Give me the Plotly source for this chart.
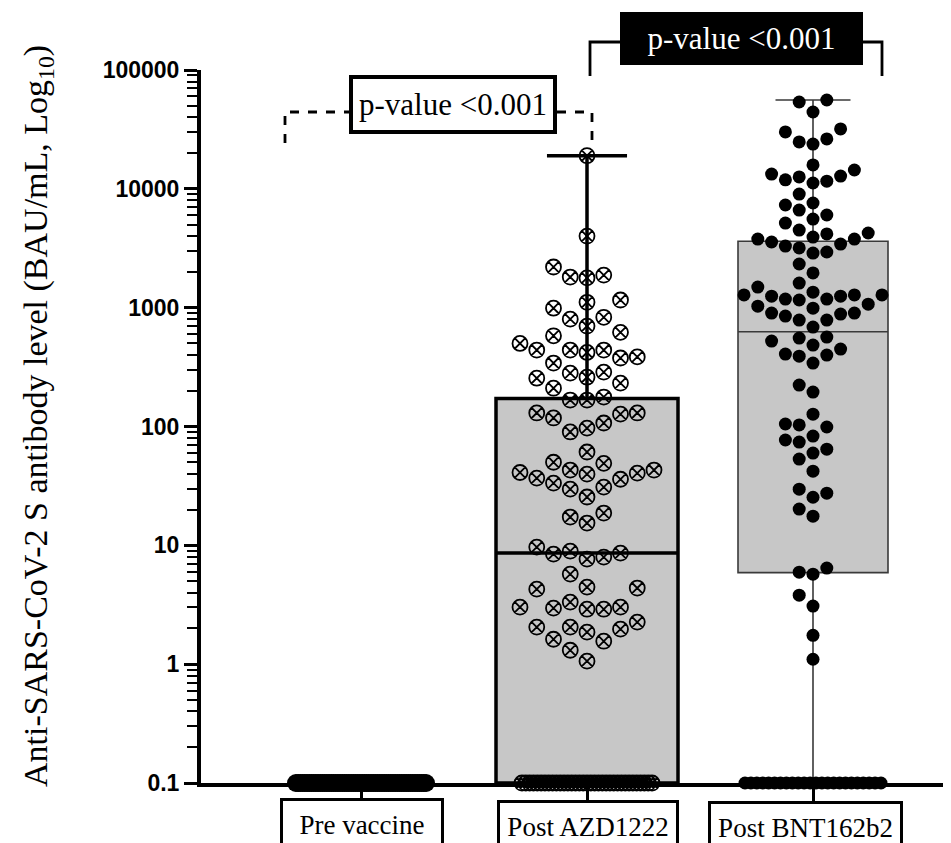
import numpy as np
import plotly.graph_objects as go

# ---------------- data ----------------
categories = ["Pre vaccine", "Post AZD1222", "Post BNT162b2"]
floor_value = 0.1  # lower limit of the assay / axis

pre_floor_count = 60
pre_values = [floor_value] * pre_floor_count

azd_detected = [19000, 4000, 2200, 1880, 1810, 1780, 1160, 1110, 990, 830, 800, 700,
                620, 580, 500, 440, 440, 440, 420, 385, 377, 342, 287, 281, 260, 255,
                232, 210, 177, 167, 167, 130, 130, 127, 118, 107, 97, 90, 61, 50, 49,
                43, 43, 41, 40.5, 39.7, 36.8, 36, 33.4, 30.9, 29.7, 25.5, 18.7, 17.3, 15.4,
                9.66, 8.94, 8.6, 8.43, 7.96, 7.66, 5.73, 4.45, 4.37, 4.28, 3.33, 3.02, 3.02,
                2.96, 2.90, 2.90, 2.26, 2.05, 2.05, 1.97, 1.86, 1.62, 1.56, 1.31, 1.06]
azd_floor_count = 35
azd_values = azd_detected + [floor_value] * azd_floor_count

bnt_detected = [55900, 53800, 44300, 31900, 30100, 26300, 24800, 23800,
                15900, 14400, 13300, 12800, 12600, 11900, 11600, 11200, 9040,
                7600, 7310, 6630, 6020, 5570, 5150,
                4500, 4250, 4170, 3930, 3780, 3780, 3570, 3430, 3300, 3180, 2940, 2880,
                2330, 1960, 1610, 1490, 1350, 1280, 1280, 1280, 1250, 1250, 1180, 1180, 1160,
                1070, 1030, 990, 900, 900, 884, 850, 786, 786,
                687, 566, 555, 523, 484, 448, 407, 399, 391, 342,
                223, 195, 127, 105, 103, 99, 83, 77, 74, 64.5, 59.7, 53.2, 42.1,
                29.7, 27.5, 25.4, 20.2, 17.6, 6.43, 5.95, 5.72, 3.81, 3.08, 1.75, 1.10]
bnt_floor_count = 24
bnt_values = bnt_detected + [floor_value] * bnt_floor_count

y_tick_values = [0.1, 1, 10, 100, 1000, 10000, 100000]
y_tick_labels = ["0.1", "1", "10", "100", "1000", "10000", "100000"]
p_value_labels = ["p-value <0.001", "p-value <0.001"]
y_title = "Anti-SARS-CoV-2 S antibody level (BAU/mL, Log<sub>10</sub>)"

# ---------------- layout geometry ----------------
PAGE_OFFSET = 8            # default body margin of the html page
W, H = 951 - PAGE_OFFSET, 843 - PAGE_OFFSET
ML, MR, MT, MB = 193, 0, 62, 60
PLOT_W = W - ML - MR
PLOT_H = H - MT - MB
PX_PER_CAT = 226.0
FIRST_CAT_SCREEN = 361.0
_left_screen = ML + PAGE_OFFSET
_right_screen = W + PAGE_OFFSET - MR
x_range = [-(FIRST_CAT_SCREEN - _left_screen) / PX_PER_CAT,
           (_right_screen - FIRST_CAT_SCREEN) / PX_PER_CAT]
y_range_log = [-1, 5]
PX_PER_DEC = PLOT_H / (y_range_log[1] - y_range_log[0])


def px_x(sx):
    """screen x pixel -> paper fraction"""
    return (sx - PAGE_OFFSET - ML) / PLOT_W


def px_y(sy):
    """screen y pixel -> paper fraction"""
    return (H - MB - (sy - PAGE_OFFSET)) / PLOT_H


def swarm_offsets(values, col_spacing, n_side, v_excl, floor_half):
    """Column-grid beeswarm (lowest value in the centre of each cluster)."""
    vals = np.asarray(values, float)
    ys = np.log10(vals) * PX_PER_DEC
    off = np.zeros(len(vals))
    floor_mask = np.isclose(vals, vals.min())
    n_floor = int(floor_mask.sum())
    spread_floor = n_floor > 3
    if spread_floor:
        off[floor_mask] = np.linspace(-floor_half, floor_half, n_floor)
    cols = [0]
    for k in range(1, n_side + 1):
        cols += [-k, k]
    placed = {c: [] for c in cols}
    for i in np.argsort(vals, kind="stable"):
        if spread_floor and floor_mask[i]:
            continue
        chosen, fb, fb_d = None, 0, -1.0
        for c in cols:
            d = min((abs(ys[i] - yy) for yy in placed[c]), default=np.inf)
            if d >= v_excl:
                chosen = c
                break
            if d > fb_d:
                fb_d, fb = d, c
        if chosen is None:
            chosen = fb
        placed[chosen].append(ys[i])
        off[i] = chosen * col_spacing
    return off / PX_PER_CAT


def box_stats(values):
    v = np.asarray(values, float)
    q1, med, q3 = np.percentile(v, [25, 50, 75])
    return dict(q1=[q1], median=[med], q3=[q3], lowerfence=[v.min()], upperfence=[v.max()])


fig = go.Figure()

BOX_GRAY = "#c7c7c7"
fig.add_trace(go.Box(x=[1], **box_stats(azd_values), width=182 / PX_PER_CAT, whiskerwidth=0.44,
                     fillcolor=BOX_GRAY, line=dict(color="black", width=3.5),
                     boxpoints=False, hoverinfo="skip", showlegend=False))
fig.add_trace(go.Box(x=[2], **box_stats(bnt_values), width=150 / PX_PER_CAT, whiskerwidth=0.5,
                     fillcolor=BOX_GRAY, line=dict(color="#3a3a3a", width=1.6),
                     boxpoints=False, hoverinfo="skip", showlegend=False))

pre_off = swarm_offsets(pre_values, 18, 3, 18, 65)
fig.add_trace(go.Scatter(x=0 + pre_off, y=pre_values, mode="markers", cliponaxis=False,
                         marker=dict(symbol="circle", size=18, color="black"),
                         hoverinfo="skip", showlegend=False))
azd_off = swarm_offsets(azd_values, 16.75, 4, 22, 65)
fig.add_trace(go.Scatter(x=1 + azd_off, y=azd_values, mode="markers", cliponaxis=False,
                         marker=dict(symbol="circle-x-open", size=15, color="black",
                                     line=dict(width=1.8, color="black")),
                         hoverinfo="skip", showlegend=False))
bnt_off = swarm_offsets(bnt_values, 13.8, 5, 16, 68)
fig.add_trace(go.Scatter(x=2 + bnt_off, y=bnt_values, mode="markers", cliponaxis=False,
                         marker=dict(symbol="circle", size=13, color="black"),
                         hoverinfo="skip", showlegend=False))

minor_vals = [m * 10.0 ** e for e in range(-1, 5) for m in range(2, 10)]

fig.update_layout(
    width=W, height=H,
    margin=dict(l=ML, r=MR, t=MT, b=MB),
    paper_bgcolor="white", plot_bgcolor="white",
    showlegend=False,
    xaxis=dict(range=x_range, showgrid=False, zeroline=False, showline=True,
               linecolor="black", linewidth=4, tickmode="array", tickvals=[0, 1, 2],
               ticks="outside", ticklen=15, tickwidth=3, tickcolor="black",
               showticklabels=False),
    yaxis=dict(type="log", range=y_range_log, showgrid=False, zeroline=False,
               showline=True, linecolor="black", linewidth=4,
               tickmode="array", tickvals=y_tick_values, ticktext=y_tick_labels,
               ticks="outside", ticklen=13, tickwidth=3, tickcolor="black",
               tickfont=dict(family="Liberation Sans", size=23, color="black", weight="bold"),
               minor=dict(tickmode="array", tickvals=minor_vals, ticks="outside",
                          ticklen=10, tickwidth=2, tickcolor="black")),
)

SERIF = "Liberation Serif"
annotations = [
    dict(text=y_title, x=px_x(38), y=px_y(416), xref="paper", yref="paper",
         textangle=-90, showarrow=False, xanchor="center", yanchor="middle",
         font=dict(family=SERIF, size=34, color="black")),
    dict(text=p_value_labels[0], x=px_x(453), y=px_y(104.5), xref="paper", yref="paper",
         showarrow=False, xanchor="center", yanchor="middle",
         font=dict(family=SERIF, size=31, color="black"),
         bgcolor="white", bordercolor="black", borderwidth=4, borderpad=0,
         width=200, height=51),
    dict(text=p_value_labels[1], x=px_x(741.5), y=px_y(38.5), xref="paper", yref="paper",
         showarrow=False, xanchor="center", yanchor="middle",
         font=dict(family=SERIF, size=31, color="white"),
         bgcolor="black", bordercolor="black", borderwidth=0, borderpad=0,
         width=243, height=53),
]
label_boxes = [(362, 164, 798), (588, 182, 800), (805.5, 195, 801)]
for cat, (cx, bw, top) in zip(categories, label_boxes):
    annotations.append(dict(text=cat, x=px_x(cx), y=px_y(top), xref="paper", yref="paper",
                            showarrow=False, xanchor="center", yanchor="top",
                            font=dict(family=SERIF, size=27, color="black"),
                            bgcolor="white", bordercolor="black", borderwidth=3,
                            borderpad=0, width=bw - 6, height=48, valign="middle"))
fig.update_layout(annotations=annotations)


def path(points):
    return "M " + " L ".join(f"{px_x(a):.5f},{px_y(b):.5f}" for a, b in points)


shapes = [
    dict(type="path", xref="paper", yref="paper",
         path=path([(285, 143), (285, 112), (349, 112)]),
         line=dict(color="black", width=2.8, dash="dash")),
    dict(type="path", xref="paper", yref="paper",
         path=path([(557, 112), (592, 112), (592, 140)]),
         line=dict(color="black", width=2.8, dash="dash")),
    dict(type="path", xref="paper", yref="paper",
         path=path([(590, 76), (590, 42), (620, 42)]),
         line=dict(color="black", width=2.8)),
    dict(type="path", xref="paper", yref="paper",
         path=path([(863, 42), (882, 42), (882, 76)]),
         line=dict(color="black", width=2.8)),
]
fig.update_layout(shapes=shapes)

fig.write_html("out.html")
